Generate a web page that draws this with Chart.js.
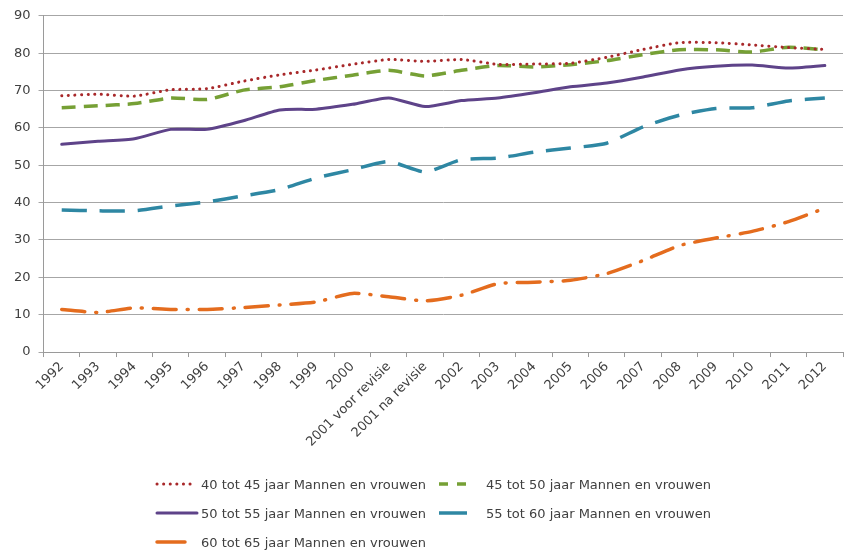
<!DOCTYPE html>
<html>
<head>
<meta charset="utf-8">
<script src="https://cdn.jsdelivr.net/npm/chart.js@4.4.1/dist/chart.umd.min.js"></script>
<style>
  body { margin: 0; background: #fff; }
  #wrap { position: relative; width: 849px; height: 550px; }
  #legenda { position: absolute; left: 0; top: 0; font: 13px "DejaVu Sans", sans-serif; color: #404040; }
  .item { position: absolute; display: flex; align-items: center; white-space: nowrap; height: 20px; }
  .item svg { display: block; }
</style>
</head>
<body>
<div id="wrap">
  <canvas id="grafica"></canvas>
  <div id="legenda"></div>
</div>
<script>
const jaren = ['1992', '1993', '1994', '1995', '1996', '1997', '1998', '1999', '2000',
  '2001 voor revisie', '2001 na revisie', '2002', '2003', '2004', '2005', '2006',
  '2007', '2008', '2009', '2010', '2011', '2012'];

const leeftijd40 = [68.6, 69.0, 68.5, 70.2, 70.5, 72.5, 74.2, 75.5, 77.0, 78.3, 77.8,
  78.3, 77.0, 77.1, 77.3, 78.9, 81.0, 82.8, 82.8, 82.2, 81.5, 81.0];
const leeftijd45 = [65.4, 65.9, 66.5, 68.0, 67.6, 70.1, 71.0, 72.7, 74.1, 75.4, 73.9,
  75.4, 76.7, 76.3, 76.9, 78.0, 79.6, 80.9, 80.9, 80.3, 81.6, 80.9];
const leeftijd50 = [55.6, 56.4, 57.1, 59.6, 59.6, 61.9, 64.8, 65.0, 66.3, 68.0, 65.7,
  67.3, 68.0, 69.4, 71.0, 72.0, 73.6, 75.5, 76.5, 76.8, 76.0, 76.7];
const leeftijd55 = [38.0, 37.8, 37.8, 39.1, 40.2, 41.8, 43.5, 46.6, 48.8, 51.0, 48.2,
  51.5, 51.9, 53.5, 54.6, 55.9, 60.3, 63.4, 65.2, 65.4, 67.2, 68.0];
const leeftijd60 = [11.4, 10.6, 11.8, 11.4, 11.4, 11.9, 12.6, 13.4, 15.7, 14.8, 13.7,
  15.2, 18.3, 18.7, 19.2, 21.0, 24.5, 28.5, 30.5, 32.3, 34.9, 38.5];

const namen = [
  '40 tot 45 jaar Mannen en vrouwen',
  '45 tot 50 jaar Mannen en vrouwen',
  '50 tot 55 jaar Mannen en vrouwen',
  '55 tot 60 jaar Mannen en vrouwen',
  '60 tot 65 jaar Mannen en vrouwen'
];

const lijn = (label, data, kleur, dash, cap, breedte) => ({
  label, data,
  borderColor: kleur,
  backgroundColor: kleur,
  borderWidth: breedte,
  borderDash: dash,
  borderCapStyle: cap,
  borderJoinStyle: 'round',
  pointRadius: 0,
  tension: 0.2,
  fill: false
});

const datasets = [
  lijn(namen[0], leeftijd40, '#a8282a', [0.1, 6.5], 'round', 3),
  lijn(namen[1], leeftijd45, '#76a035', [14, 8], 'butt', 3.5),
  lijn(namen[2], leeftijd50, '#5e4389', [], 'round', 3),
  lijn(namen[3], leeftijd55, '#2e87a3', [25, 13], 'butt', 3.5),
  lijn(namen[4], leeftijd60, '#e46c1e', [23, 11, 1, 11], 'round', 3.5)
];

// kortere streepjes in de legenda
const legendaDash = [[0.1, 6.5], [9, 9], [], [30], [30]];

const ctx = document.getElementById('grafica').getContext('2d');
const chart = new Chart(ctx, {
  type: 'line',
  data: { labels: jaren, datasets },
  options: {
    responsive: true,
    maintainAspectRatio: false,
    animation: false,
    layout: { padding: { left: 6, right: 6, top: 4, bottom: 98 } },
    plugins: { legend: { display: false }, tooltip: { enabled: false } },
    scales: {
      x: {
        offset: true,
        grid: { display: true, drawOnChartArea: false, offset: true, color: '#9a9a9a', tickLength: 5 },
        border: { color: '#9a9a9a', width: 1 },
        ticks: {
          autoSkip: false, minRotation: 45, maxRotation: 45, padding: 2,
          color: '#404040', font: { family: 'DejaVu Sans', size: 13 }
        }
      },
      y: {
        min: 0, max: 90,
        grid: { color: '#a6a6a6', tickLength: 5 },
        border: { color: '#9a9a9a', width: 1 },
        ticks: {
          stepSize: 10, padding: 8,
          color: '#404040', font: { family: 'DejaVu Sans', size: 13 }
        }
      }
    }
  }
});

// legenda in twee kolommen, zoals in het origineel
const posities = [[155, 474], [437, 474], [155, 503], [437, 503], [155, 532]];
const lengtes = [38, 38, 42, 30, 30];
const legenda = document.getElementById('legenda');
datasets.forEach((ds, i) => {
  const div = document.createElement('div');
  div.className = 'item';
  div.style.left = posities[i][0] + 'px';
  div.style.top = posities[i][1] + 'px';
  const len = lengtes[i];
  const dash = legendaDash[i].length ? legendaDash[i].join(' ') : 'none';
  div.innerHTML = `<svg width="${i % 2 ? 49 : 46}" height="20"><line x1="2" y1="10" x2="${len}" y2="10"
    stroke="${ds.borderColor}" stroke-width="${ds.borderWidth}" stroke-dasharray="${dash}"
    stroke-linecap="${ds.borderCapStyle}"/></svg><span>${ds.label}</span>`;
  legenda.appendChild(div);
});
</script>
</body>
</html>
